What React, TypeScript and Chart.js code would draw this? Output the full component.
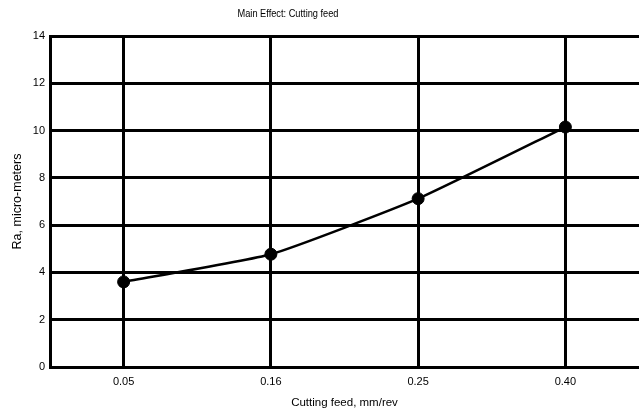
import React, { useEffect, useRef } from "react";
import { Chart, registerables } from "chart.js";

Chart.register(...registerables);

const feedLabels = ["0.05", "0.16", "0.25", "0.40"];
const roughness = [3.6, 4.77, 7.12, 10.15];
const yMin = 0;
const yMax = 14;
const yStep = 2;
const chartTitle = "Main Effect: Cutting feed";
const xTitle = "Cutting feed, mm/rev";
const yTitle = "Ra, micro-meters";

const FONT = "'Liberation Sans', Arial, Helvetica, sans-serif";

// Title drawn slightly narrower than the axis text, left of the plot centre
const titlePlugin = {
  id: "narrowTitle",
  afterDraw(chart: any) {
    const ctx = chart.ctx;
    ctx.save();
    ctx.font = `11px ${FONT}`;
    ctx.fillStyle = "#000";
    ctx.textAlign = "center";
    ctx.textBaseline = "middle";
    ctx.translate(288, 14);
    ctx.scale(0.84, 1);
    ctx.fillText(chartTitle, 0, 0);
    ctx.restore();
  },
};

export default function App() {
  const canvasRef = useRef<HTMLCanvasElement | null>(null);

  useEffect(() => {
    const canvas = canvasRef.current;
    if (!canvas) return;
    const chart = new Chart(canvas, {
      type: "line",
      data: {
        labels: feedLabels,
        datasets: [
          {
            data: roughness,
            borderColor: "#000",
            backgroundColor: "#000",
            borderWidth: 2.5,
            pointRadius: 6,
            pointBorderWidth: 1,
            pointBackgroundColor: "#000",
            pointBorderColor: "#000",
            tension: 0.15,
            fill: false,
          },
        ],
      },
      options: {
        responsive: false,
        animation: false,
        layout: { padding: { left: 0, right: 4, top: 36, bottom: 0 } },
        plugins: {
          legend: { display: false },
          title: { display: false },
          tooltip: { enabled: false },
        },
        scales: {
          x: {
            type: "category",
            offset: true,
            afterFit(scale: any) {
              scale.height = 48;
            },
            grid: {
              offset: false,
              color: "#000",
              lineWidth: 3,
              drawTicks: false,
            },
            border: { color: "#000", width: 3 },
            ticks: {
              color: "#000",
              font: { family: FONT, size: 11 },
              padding: 8,
              maxRotation: 0,
            },
            title: {
              display: true,
              text: xTitle,
              color: "#000",
              font: { family: FONT, size: 11.5 },
              padding: { top: 0, bottom: 5 },
            },
          },
          y: {
            min: yMin,
            max: yMax,
            afterFit(scale: any) {
              scale.width = 50;
            },
            grid: {
              color: "#000",
              lineWidth: 3,
              drawTicks: false,
            },
            border: { color: "#000", width: 3 },
            ticks: {
              stepSize: yStep,
              color: "#000",
              font: { family: FONT, size: 11 },
              padding: 5,
            },
            title: {
              display: true,
              text: yTitle,
              color: "#000",
              font: { family: FONT, size: 12.5 },
              padding: { top: 10, bottom: 0 },
            },
          },
        },
      },
      plugins: [titlePlugin],
    });
    return () => chart.destroy();
  }, []);

  return (
    <div
      style={{
        position: "fixed",
        left: 0,
        top: 0,
        width: 639,
        height: 415,
        overflow: "hidden",
        background: "#fff",
      }}
    >
      <canvas
        ref={canvasRef}
        width={646}
        height={415}
        style={{ width: 646, height: 415, display: "block" }}
      />
    </div>
  );
}
